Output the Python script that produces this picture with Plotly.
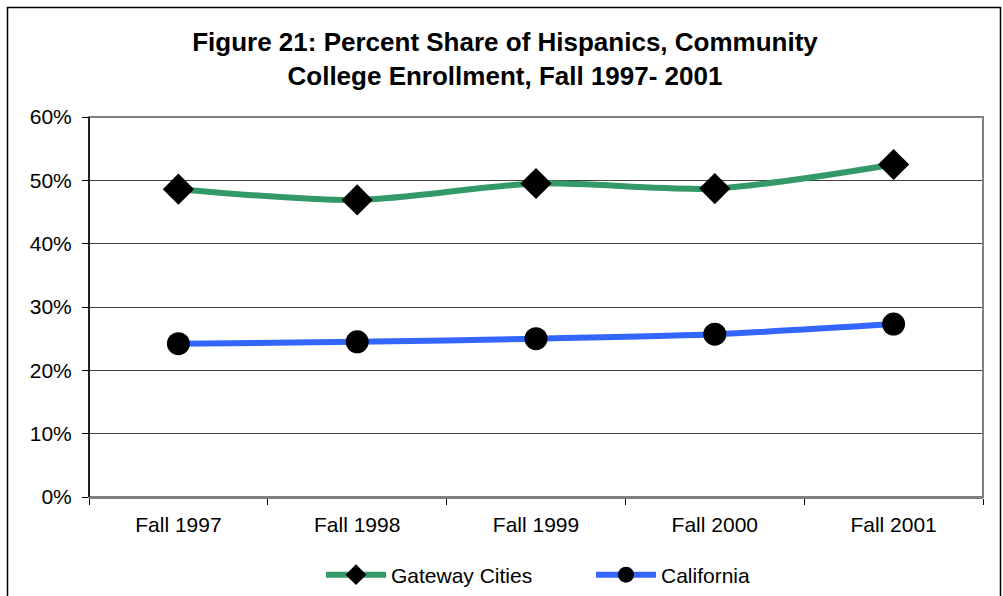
import plotly.graph_objects as go

# Enrollment share of Hispanic students, community colleges
terms = ["Fall 1997", "Fall 1998", "Fall 1999", "Fall 2000", "Fall 2001"]
gateway_cities = [48.6, 46.9, 49.5, 48.7, 52.5]
california = [24.2, 24.5, 25.0, 25.7, 27.3]
y_ticks = [0, 10, 20, 30, 40, 50, 60]

FONT = "Liberation Sans, Arial, sans-serif"

# plot area in pixels
W, H = 1003, 596
L, R, T, B = 89, 983, 117, 497


def px_x(x):
    return (x - L) / (R - L)


def px_y(y):
    return (B - y) / (B - T)


fig = go.Figure()
fig.add_trace(go.Scatter(
    x=terms, y=gateway_cities, name="Gateway Cities",
    mode="lines+markers",
    line=dict(color="#339966", width=6, shape="spline", smoothing=0.8),
    marker=dict(symbol="diamond", size=24, color="black"),
))
fig.add_trace(go.Scatter(
    x=terms, y=california, name="California",
    mode="lines+markers",
    line=dict(color="#3366FF", width=6, shape="spline", smoothing=0.8),
    marker=dict(symbol="circle", size=23, color="black"),
))

shapes = [
    # outer chart frame
    dict(type="rect", xref="paper", yref="paper",
         x0=px_x(7.5), x1=px_x(1000.5), y0=px_y(620), y1=px_y(7.5),
         line=dict(color="black", width=1.5), layer="below"),
    # plot area frame
    dict(type="rect", xref="paper", yref="paper",
         x0=0, x1=1, y0=0, y1=1,
         line=dict(color="#808080", width=2), layer="above"),
    # value axis line
    dict(type="line", xref="paper", yref="paper",
         x0=0, x1=0, y0=0, y1=1,
         line=dict(color="black", width=1.5), layer="above"),
]

fig.update_layout(
    width=W, height=H,
    margin=dict(l=L, r=W - R, t=T, b=H - B, autoexpand=False),
    paper_bgcolor="white", plot_bgcolor="white",
    font=dict(family=FONT, color="black", size=21),
    title=dict(
        text="Figure 21: Percent Share of Hispanics, Community<br>College Enrollment, Fall 1997- 2001",
        x=505 / W, xanchor="center", y=1 - 51 / H, yanchor="middle",
        font=dict(family=FONT, size=26, color="black", weight="bold"),
    ),
    xaxis=dict(
        type="category", range=[-0.5, 4.5],
        showgrid=False, showline=True, linecolor="#808080", linewidth=2,
        ticks="outside", tickson="boundaries", ticklen=6, tickcolor="black",
        tickfont=dict(size=21), ticklabelstandoff=8, zeroline=False,
    ),
    yaxis=dict(
        range=[0, 60], tickvals=y_ticks,
        ticktext=[f"{v}%" for v in y_ticks],
        showgrid=True, gridcolor="#404040", gridwidth=1,
        showline=False, ticks="outside", ticklen=6, tickcolor="black",
        tickfont=dict(size=21), ticklabelstandoff=6, zeroline=False,
    ),
    legend=dict(
        orientation="h", x=px_x(321), xanchor="left",
        y=px_y(575), yanchor="middle",
        font=dict(size=21), itemwidth=60, entrywidth=195,
        bgcolor="rgba(0,0,0,0)", tracegroupgap=0,
    ),
    shapes=shapes,
)

fig.write_html("out.html")
